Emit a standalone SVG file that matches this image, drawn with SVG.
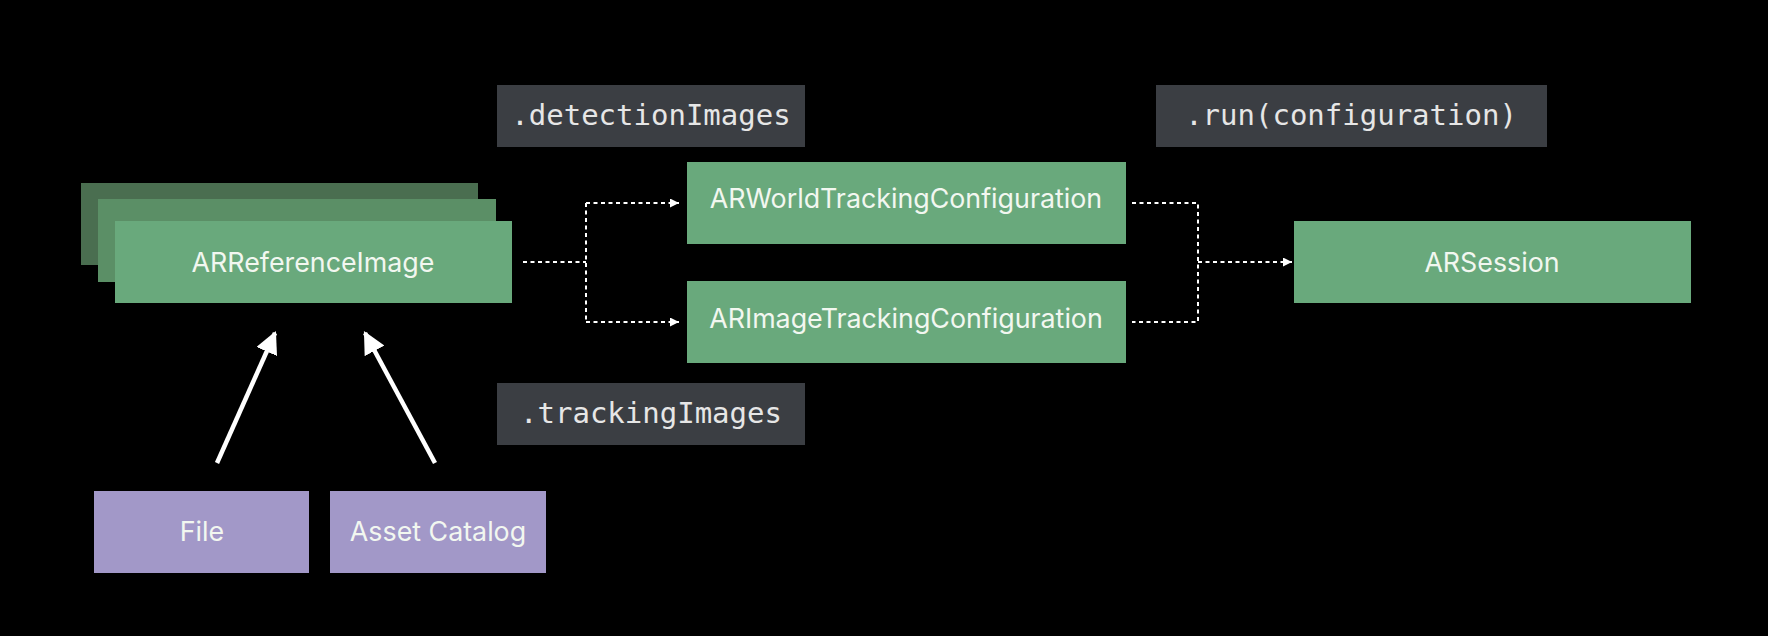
<svg xmlns="http://www.w3.org/2000/svg" width="1768" height="636" viewBox="0 0 1768 636">
<style>
.bg{fill:#000}
.g{fill:#69a97c}
.g2{fill:#5b8f66}
.g3{fill:#4a6e50}
.p{fill:#a298c8}
.code{fill:#3b3e43}
.t{font-family:Inter,"Open Sans",sans-serif;font-size:26.8px;fill:#f2f7f0;text-anchor:middle}
.m{font-family:"DejaVu Sans Mono","Liberation Mono",monospace;font-size:29px;fill:#e6e6e6;text-anchor:middle}
.d{fill:none;stroke:#fff;stroke-width:2;stroke-dasharray:4 3.5}
.s{fill:none;stroke:#fff;stroke-width:4.5}
</style>
<defs>
<marker id="ah" viewBox="0 0 10 10" refX="10" refY="5" markerWidth="9" markerHeight="9" markerUnits="userSpaceOnUse" orient="auto"><path d="M0,0 L10,5 L0,10 z" fill="#fff"/></marker>
<marker id="ab" viewBox="0 0 10 10" refX="9" refY="5" markerWidth="5" markerHeight="5" orient="auto"><path d="M0,0 L10,5 L0,10 z" fill="#fff"/></marker>
</defs>
<rect class="bg" x="0" y="0" width="1768" height="636"/>
<g id="code-detection"><rect class="code" x="497" y="85" width="308" height="62"/><text class="m" x="651" y="125">.detectionImages</text></g>
<g id="code-run"><rect class="code" x="1156" y="85" width="391" height="62"/><text class="m" x="1351" y="125">.run(configuration)</text></g>
<g id="code-tracking"><rect class="code" x="497" y="383" width="308" height="62"/><text class="m" x="651" y="423">.trackingImages</text></g>
<g id="arreferenceimage">
<rect class="g3" x="81" y="183" width="397" height="82"/>
<rect class="g2" x="98" y="199" width="398" height="83"/>
<rect class="g" x="115" y="221" width="397" height="82"/>
<text class="t" x="313" y="272">ARReferenceImage</text>
</g>
<g id="arworld"><rect class="g" x="687" y="162" width="439" height="82"/><text class="t" x="906" y="208">ARWorldTrackingConfiguration</text></g>
<g id="arimage"><rect class="g" x="687" y="281" width="439" height="82"/><text class="t" x="906" y="328">ARImageTrackingConfiguration</text></g>
<g id="arsession"><rect class="g" x="1294" y="221" width="397" height="82"/><text class="t" x="1492" y="272">ARSession</text></g>
<g id="file"><rect class="p" x="94" y="491" width="215" height="82"/><text class="t" x="202" y="541">File</text></g>
<g id="assetcatalog"><rect class="p" x="330" y="491" width="216" height="82"/><text class="t" x="438" y="541">Asset Catalog</text></g>
<g id="connectors">
<path class="d" d="M523,262 H586 M586,203 V322"/>
<path class="d" d="M586,203 H679" marker-end="url(#ah)"/>
<path class="d" d="M586,322 H679" marker-end="url(#ah)"/>
<path class="d" d="M1132,203 H1198 V322 H1132"/>
<path class="d" d="M1198,262 H1292" marker-end="url(#ah)"/>
<path class="s" d="M217,463 L275,333" marker-end="url(#ab)"/>
<path class="s" d="M435,463 L365,333" marker-end="url(#ab)"/>
</g>
</svg>
